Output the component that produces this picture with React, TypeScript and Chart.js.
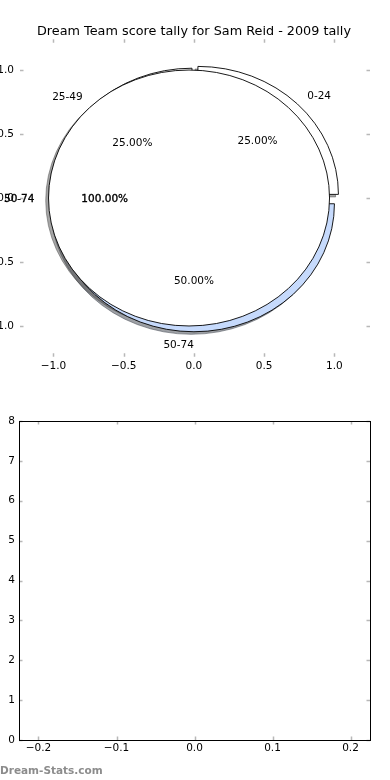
import React, { useEffect, useRef } from 'react';
import { Chart, registerables } from 'chart.js';

Chart.register(...registerables);

const TITLE = 'Dream Team score tally for Sam Reid - 2009 tally';
const WATERMARK = 'Dream-Stats.com';

// first pie: score bands
const SLICE_LABELS = ['0-24', '25-49', '50-74'];
const SLICE_VALUES = [1, 1, 2];
const SLICE_COLORS = ['#ffffff', '#ffffff', '#c6dafc'];
const SLICE_EXPLODE = [0.04, 0.02, 0.045];

// second pie drawn over it
const FULL_LABELS = ['50-74'];
const FULL_VALUES = [1];
const FULL_COLORS = ['#ffffff'];
const FULL_EXPLODE = [0.035];

const PIE_X_TICKS = [-1, -0.5, 0, 0.5, 1];
const PIE_Y_TICKS = [-1, -0.5, 0, 0.5, 1];
const PIE_X_RANGE = [-1.238, 1.253];
const PIE_Y_RANGE = [-1.24, 1.24];

const EMPTY_X_TICKS = [-0.2, -0.1, 0, 0.1, 0.2];
const EMPTY_Y_TICKS = [0, 1, 2, 3, 4, 5, 6, 7, 8];
const EMPTY_X_RANGE = [-0.225, 0.225];
const EMPTY_Y_RANGE = [0, 8];

const FONT = '"DejaVu Sans", "Liberation Sans", sans-serif';
const SHADOW_OFFSET = -0.02;

type PieSpec = { labels: string[]; values: number[]; colors: string[]; explode: number[]; heavy: boolean };
const PIES: PieSpec[] = [
  { labels: SLICE_LABELS, values: SLICE_VALUES, colors: SLICE_COLORS, explode: SLICE_EXPLODE, heavy: false },
  { labels: FULL_LABELS, values: FULL_VALUES, colors: FULL_COLORS, explode: FULL_EXPLODE, heavy: true },
];

function minus(s: string) {
  return s.replace('-', '\u2212');
}

function wedgeGeometry(values: number[], explode: number[]) {
  const total = values.reduce((a, b) => a + b, 0);
  let theta = 0;
  return values.map((v, i) => {
    const t1 = theta;
    const t2 = theta + (2 * Math.PI * v) / total;
    theta = t2;
    const mid = (t1 + t2) / 2;
    return {
      t1,
      t2,
      mid,
      frac: v / total,
      ox: explode[i] * Math.cos(mid),
      oy: explode[i] * Math.sin(mid),
    };
  });
}

function wedgePath(ctx: CanvasRenderingContext2D, cx: number, cy: number, rx: number, ry: number, t1: number, t2: number) {
  ctx.beginPath();
  if (t2 - t1 >= 2 * Math.PI - 1e-9) {
    ctx.ellipse(cx, cy, rx, ry, 0, 0, 2 * Math.PI);
    ctx.closePath();
  } else {
    ctx.moveTo(cx, cy);
    ctx.ellipse(cx, cy, rx, ry, 0, -t1, -t2, true);
    ctx.closePath();
  }
}

function shadowColor(hex: string) {
  const n = parseInt(hex.slice(1), 16);
  const r = Math.round(((n >> 16) & 255) * 0.3);
  const g = Math.round(((n >> 8) & 255) * 0.3);
  const b = Math.round((n & 255) * 0.3);
  return `rgba(${r},${g},${b},0.5)`;
}

const piePlugin = {
  id: 'pieWedges',
  afterDatasetsDraw(chart: any) {
    const { ctx, scales } = chart;
    const xs = scales.x;
    const ys = scales.y;
    const px = (v: number) => xs.getPixelForValue(v);
    const py = (v: number) => ys.getPixelForValue(v);
    const rx = px(1) - px(0);
    const ry = py(0) - py(1);
    const geo = PIES.map((p) => wedgeGeometry(p.values, p.explode));
    ctx.save();
    // shadows first
    PIES.forEach((p, pi) =>
      geo[pi].forEach((w, i) => {
        wedgePath(ctx, px(w.ox + SHADOW_OFFSET), py(w.oy + SHADOW_OFFSET), rx, ry, w.t1, w.t2);
        const c = shadowColor(p.colors[i]);
        ctx.fillStyle = c;
        ctx.strokeStyle = c;
        ctx.lineWidth = 1;
        ctx.fill();
        ctx.stroke();
      })
    );
    // wedges
    PIES.forEach((p, pi) =>
      geo[pi].forEach((w, i) => {
        wedgePath(ctx, px(w.ox), py(w.oy), rx, ry, w.t1, w.t2);
        ctx.fillStyle = p.colors[i];
        ctx.strokeStyle = '#000';
        ctx.lineWidth = 0.9;
        ctx.fill();
        ctx.stroke();
      })
    );
    // texts
    ctx.font = `10.5px ${FONT}`;
    ctx.fillStyle = '#000';
    ctx.strokeStyle = '#000';
    ctx.lineWidth = 0.35;
    ctx.textBaseline = 'middle';
    const put = (s: string, x: number, y: number, heavy: boolean) => {
      ctx.fillText(s, x, y + 1);
      if (heavy) ctx.strokeText(s, x, y + 1);
    };
    PIES.forEach((p, pi) =>
      geo[pi].forEach((w, i) => {
        const xt = w.ox + 1.1 * Math.cos(w.mid);
        const yt = w.oy + 1.1 * Math.sin(w.mid);
        ctx.textAlign = xt > 0 ? 'left' : 'right';
        put(p.labels[i], px(xt), py(yt), p.heavy);
        const xp = w.ox + 0.6 * Math.cos(w.mid);
        const yp = w.oy + 0.6 * Math.sin(w.mid);
        ctx.textAlign = 'center';
        put(`${(w.frac * 100).toFixed(2)}%`, px(xp), py(yp), p.heavy);
      })
    );
    ctx.restore();
  },
};

function frameTicksPlugin(drawFrame: boolean, title?: string, watermark?: string) {
  return {
    id: 'frameTicks',
    afterDraw(chart: any) {
      const { ctx, chartArea: a, scales } = chart;
      const xs = scales.x;
      const ys = scales.y;
      const L = 3.5;
      ctx.save();
      ctx.strokeStyle = '#b8b8b8';
      ctx.lineWidth = 1.5;
      ctx.beginPath();
      xs.ticks.forEach((t: any) => {
        const p = Math.round(xs.getPixelForValue(t.value)) + 0.5;
        ctx.moveTo(p, a.bottom);
        ctx.lineTo(p, a.bottom - L);
        ctx.moveTo(p, a.top);
        ctx.lineTo(p, a.top + L);
      });
      ys.ticks.forEach((t: any) => {
        const p = Math.round(ys.getPixelForValue(t.value)) + 0.5;
        ctx.moveTo(a.left, p);
        ctx.lineTo(a.left + L, p);
        ctx.moveTo(a.right, p);
        ctx.lineTo(a.right - L, p);
      });
      ctx.stroke();
      if (drawFrame) {
        ctx.strokeStyle = '#000';
        ctx.lineWidth = 1;
        ctx.strokeRect(a.left + 0.5, a.top + 0.5, a.right - a.left, a.bottom - a.top);
      }
      if (title) {
        ctx.font = `12.8px ${FONT}`;
        ctx.fillStyle = '#000';
        ctx.textAlign = 'center';
        ctx.textBaseline = 'alphabetic';
        ctx.fillText(title, (a.left + a.right) / 2 - 1, 35);
      }
      if (watermark) {
        ctx.font = `bold 10.5px ${FONT}`;
        ctx.fillStyle = '#8c8c8c';
        ctx.textAlign = 'left';
        ctx.textBaseline = 'alphabetic';
        ctx.fillText(watermark, 0, chart.height - 5.7);
      }
      ctx.restore();
    },
  };
}

function axisOpts(
  ticksArr: number[],
  range: number[],
  fmt: (v: number) => string,
  fit: (s: any) => void,
  padding: number
) {
  return {
    type: 'linear' as const,
    min: range[0],
    max: range[1],
    grid: { display: false, drawTicks: false },
    border: { display: false },
    afterBuildTicks: (s: any) => {
      s.ticks = ticksArr.map((v) => ({ value: v }));
    },
    afterFit: fit,
    ticks: {
      padding,
      color: '#000',
      font: { family: FONT, size: 10.5 },
      maxRotation: 0,
      autoSkip: false,
      callback: (v: any) => fmt(Number(v)),
    },
  };
}

function PieChart() {
  const ref = useRef<HTMLCanvasElement>(null);
  useEffect(() => {
    if (!ref.current) return;
    const chart = new Chart(ref.current, {
      type: 'scatter',
      data: { datasets: [{ data: [] }] },
      options: {
        animation: false,
        responsive: false,
        devicePixelRatio: 1,
        layout: { padding: { top: 39.3, right: 20, bottom: 0, left: 0 } },
        plugins: { legend: { display: false }, tooltip: { enabled: false } },
        scales: {
          x: axisOpts(PIE_X_TICKS, PIE_X_RANGE, (v) => minus(v.toFixed(1)), (s) => { s.height = 43.3; }, 3),
          y: axisOpts(PIE_Y_TICKS, PIE_Y_RANGE, (v) => minus(v.toFixed(1)), (s) => { s.width = 20; }, 6),
        },
      } as any,
      plugins: [piePlugin, frameTicksPlugin(false, TITLE)],
    });
    return () => chart.destroy();
  }, []);
  return <canvas ref={ref} width={390} height={400} style={{ position: 'absolute', left: 0, top: 0, display: 'block' }} />;
}

function EmptyChart() {
  const ref = useRef<HTMLCanvasElement>(null);
  useEffect(() => {
    if (!ref.current) return;
    const chart = new Chart(ref.current, {
      type: 'scatter',
      data: { datasets: [{ data: [] }] },
      options: {
        animation: false,
        responsive: false,
        devicePixelRatio: 1,
        layout: { padding: { top: 21, right: 20, bottom: 0, left: 0 } },
        plugins: { legend: { display: false }, tooltip: { enabled: false } },
        scales: {
          x: axisOpts(EMPTY_X_TICKS, EMPTY_X_RANGE, (v) => minus(v.toFixed(1)), (s) => { s.height = 40; }, 2),
          y: axisOpts(EMPTY_Y_TICKS, EMPTY_Y_RANGE, (v) => String(Math.round(v)), (s) => { s.width = 19; }, 4),
        },
      } as any,
      plugins: [frameTicksPlugin(true, undefined, WATERMARK)],
    });
    return () => chart.destroy();
  }, []);
  return <canvas ref={ref} width={390} height={380} style={{ position: 'absolute', left: 0, top: 400, display: 'block' }} />;
}

export default function App() {
  return (
    <div style={{ position: 'absolute', left: 0, top: 0, width: 390, height: 780, background: '#fff', overflow: 'hidden' }}>
      <PieChart />
      <EmptyChart />
    </div>
  );
}
